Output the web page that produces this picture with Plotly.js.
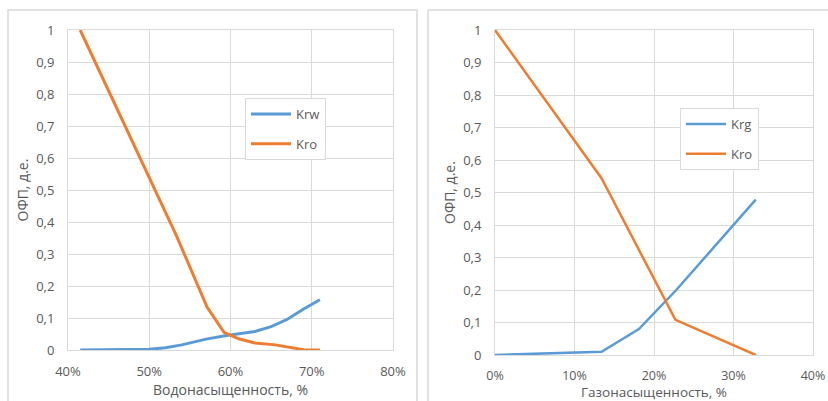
<!DOCTYPE html>
<html>
<head>
<meta charset="utf-8">
<script src="https://cdn.plot.ly/plotly-3.0.1.min.js"></script>
<style>html,body{margin:0;padding:0;background:#fff;}#chart{width:828px;height:401px;}</style>
</head>
<body>
<div id="chart"></div>
<script>
// Left chart: water saturation, %
const swKrw = [41.5, 45, 50, 52, 54, 57, 59.5, 63, 65, 67, 69, 71];
const krw   = [0, 0, 0.002, 0.007, 0.016, 0.034, 0.045, 0.058, 0.073, 0.096, 0.128, 0.157];
const swKro = [41.5, 50, 53.3, 57.1, 59.2, 61, 63, 65.5, 69, 71];
const kroW  = [1.0, 0.54, 0.36, 0.135, 0.055, 0.035, 0.022, 0.016, 0.001, 0];

// Right chart: gas saturation, %
const sgKrg = [0, 13.4, 18.1, 22.8, 32.8];
const krg   = [0, 0.01, 0.08, 0.2, 0.478];
const sgKro = [0, 13.4, 22.7, 32.8];
const kroG  = [1.0, 0.544, 0.108, 0];

const yTicks = [0, 0.1, 0.2, 0.3, 0.4, 0.5, 0.6, 0.7, 0.8, 0.9, 1];
const yTickText = ['0', '0,1', '0,2', '0,3', '0,4', '0,5', '0,6', '0,7', '0,8', '0,9', '1'];
const xTicksL = [40, 50, 60, 70, 80];
const xTickTextL = ['40%', '50%', '60%', '70%', '80%'];
const xTicksR = [0, 10, 20, 30, 40];
const xTickTextR = ['0%', '10%', '20%', '30%', '40%'];

const BLUE = '#5b9bd5', ORANGE = '#ed7d31';
const GRID = '#d9d9d9', TXT = '#595959';
const FONT = 'Open Sans, Liberation Sans, sans-serif';
const W = 828, H = 401;
const px = v => v / W, py = v => (H - v) / H;

const traces = [
  {x: swKrw, y: krw, name: 'Krw', mode: 'lines', line: {color: BLUE, width: 3}, xaxis: 'x', yaxis: 'y', legend: 'legend', legendgroup: 'a'},
  {x: swKro, y: kroW, name: 'Kro', mode: 'lines', line: {color: ORANGE, width: 3}, xaxis: 'x', yaxis: 'y', legend: 'legend', legendgroup: 'b'},
  {x: sgKrg, y: krg, name: 'Krg', mode: 'lines', line: {color: BLUE, width: 2.5}, xaxis: 'x2', yaxis: 'y2', legend: 'legend2', legendgroup: 'c'},
  {x: sgKro, y: kroG, name: 'Kro', mode: 'lines', line: {color: ORANGE, width: 2.5}, xaxis: 'x2', yaxis: 'y2', legend: 'legend2', legendgroup: 'd'}
];

const yAxisBase = {
  range: [0, 1], tickvals: yTicks, ticktext: yTickText,
  showgrid: true, gridcolor: GRID, gridwidth: 1, zeroline: false,
  showline: true, linecolor: GRID, mirror: true,
  ticks: 'outside', ticklen: 10, tickcolor: 'rgba(0,0,0,0)',
  tickfont: {family: FONT, size: 13, color: TXT},
  title: {text: 'ОФП, д.е.', font: {family: FONT, size: 14, color: TXT}, standoff: 4}
};
const xAxisBase = {
  showgrid: true, gridcolor: GRID, gridwidth: 1, zeroline: false,
  showline: true, linecolor: GRID, mirror: true,
  ticks: 'outside', tickcolor: 'rgba(0,0,0,0)'
};
const legBase = {
  xanchor: 'left', yanchor: 'top',
  bgcolor: '#fff', bordercolor: GRID, borderwidth: 1,
  font: {family: FONT, size: 13, color: TXT}, tracegroupgap: 10, itemwidth: 40
};

const layout = {
  width: W, height: H,
  margin: {l: 0, r: 0, t: 0, b: 0},
  paper_bgcolor: '#fff', plot_bgcolor: '#fff',
  font: {family: FONT, color: TXT},
  xaxis: Object.assign({}, xAxisBase, {
    domain: [px(68), px(393)], range: [40, 80], tickvals: xTicksL, ticktext: xTickTextL, anchor: 'y',
    ticklen: 9, tickfont: {family: FONT, size: 13, color: TXT},
    title: {text: 'Водонасыщенность, %', font: {family: FONT, size: 14, color: TXT}, standoff: 3}
  }),
  yaxis: Object.assign({}, yAxisBase, {domain: [py(350), py(30)], anchor: 'x'}),
  xaxis2: Object.assign({}, xAxisBase, {
    domain: [px(495), px(813)], range: [0, 40], tickvals: xTicksR, ticktext: xTickTextR, anchor: 'y2',
    ticklen: 9, tickfont: {family: FONT, size: 12.5, color: TXT},
    title: {text: 'Газонасыщенность, %', font: {family: FONT, size: 13.5, color: TXT}, standoff: 0}
  }),
  yaxis2: Object.assign({}, yAxisBase, {domain: [py(355), py(30)], anchor: 'x2'}),
  legend: Object.assign({}, legBase, {x: px(245), y: py(98)}),
  legend2: Object.assign({}, legBase, {x: px(680), y: py(108)}),
  shapes: [
    {type: 'rect', xref: 'paper', yref: 'paper', x0: px(8), x1: px(417), y0: py(420), y1: py(10), line: {color: GRID, width: 1.5}, layer: 'below'},
    {type: 'rect', xref: 'paper', yref: 'paper', x0: px(428), x1: px(840), y0: py(420), y1: py(10), line: {color: GRID, width: 1.5}, layer: 'below'}
  ],
  showlegend: true
};

Plotly.newPlot('chart', traces, layout, {displayModeBar: false, staticPlot: true});
</script>
</body>
</html>
